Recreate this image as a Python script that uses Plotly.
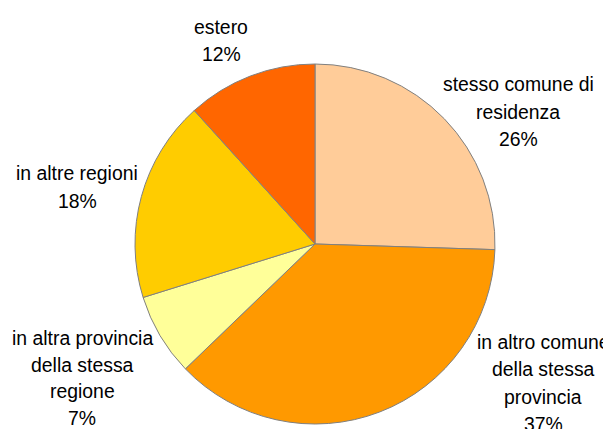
import plotly.graph_objects as go

labels = [
    "stesso comune di<br>residenza",
    "in altro comune<br>della stessa<br>provincia",
    "in altra provincia<br>della stessa<br>regione",
    "in altre regioni",
    "estero",
]
values = [25.5, 37.3, 7.4, 18.1, 11.7]
colors = ["#FFCC99", "#FF9900", "#FFFF99", "#FFCC00", "#FF6600"]

W, H = 611, 429
OFF = 8  # page body margin offset

# label layout: (centre x in px, first baseline y in px, line spacing px)
label_pos = [
    (518, 90, 27.5),
    (543, 348, 27.3),
    (82, 344, 26.7),
    (77, 179, 28),
    (221, 33, 27),
]

fig = go.Figure(go.Pie(
    labels=labels,
    values=values,
    sort=False,
    direction="clockwise",
    rotation=0,
    marker=dict(colors=colors, line=dict(color="#808080", width=1)),
    textinfo="none",
    showlegend=False,
    domain=dict(x=[(135 - OFF) / W, (495 - OFF) / W],
                y=[(H - 424 + OFF) / H, (H - 64 + OFF) / H]),
    hoverinfo="skip",
))

total = sum(values)
annotations = []
for lab, val, (cx, by, sp) in zip(labels, values, label_pos):
    pct = int(val / total * 100 + 0.5 + 1e-9)
    lines = lab.split("<br>") + [f"{pct}%"]
    for i, line in enumerate(lines):
        ypx = by + i * sp - 6 - OFF
        annotations.append(dict(
            text=line, x=(cx - OFF) / W, y=1 - ypx / H,
            xref="paper", yref="paper",
            xanchor="center", yanchor="middle",
            showarrow=False,
            font=dict(family="Liberation Sans", size=19.4, color="#000000"),
        ))

fig.update_layout(
    width=W, height=H,
    margin=dict(l=0, r=0, t=0, b=0),
    paper_bgcolor="white",
    plot_bgcolor="white",
    annotations=annotations,
)

fig.write_html("out.html")
